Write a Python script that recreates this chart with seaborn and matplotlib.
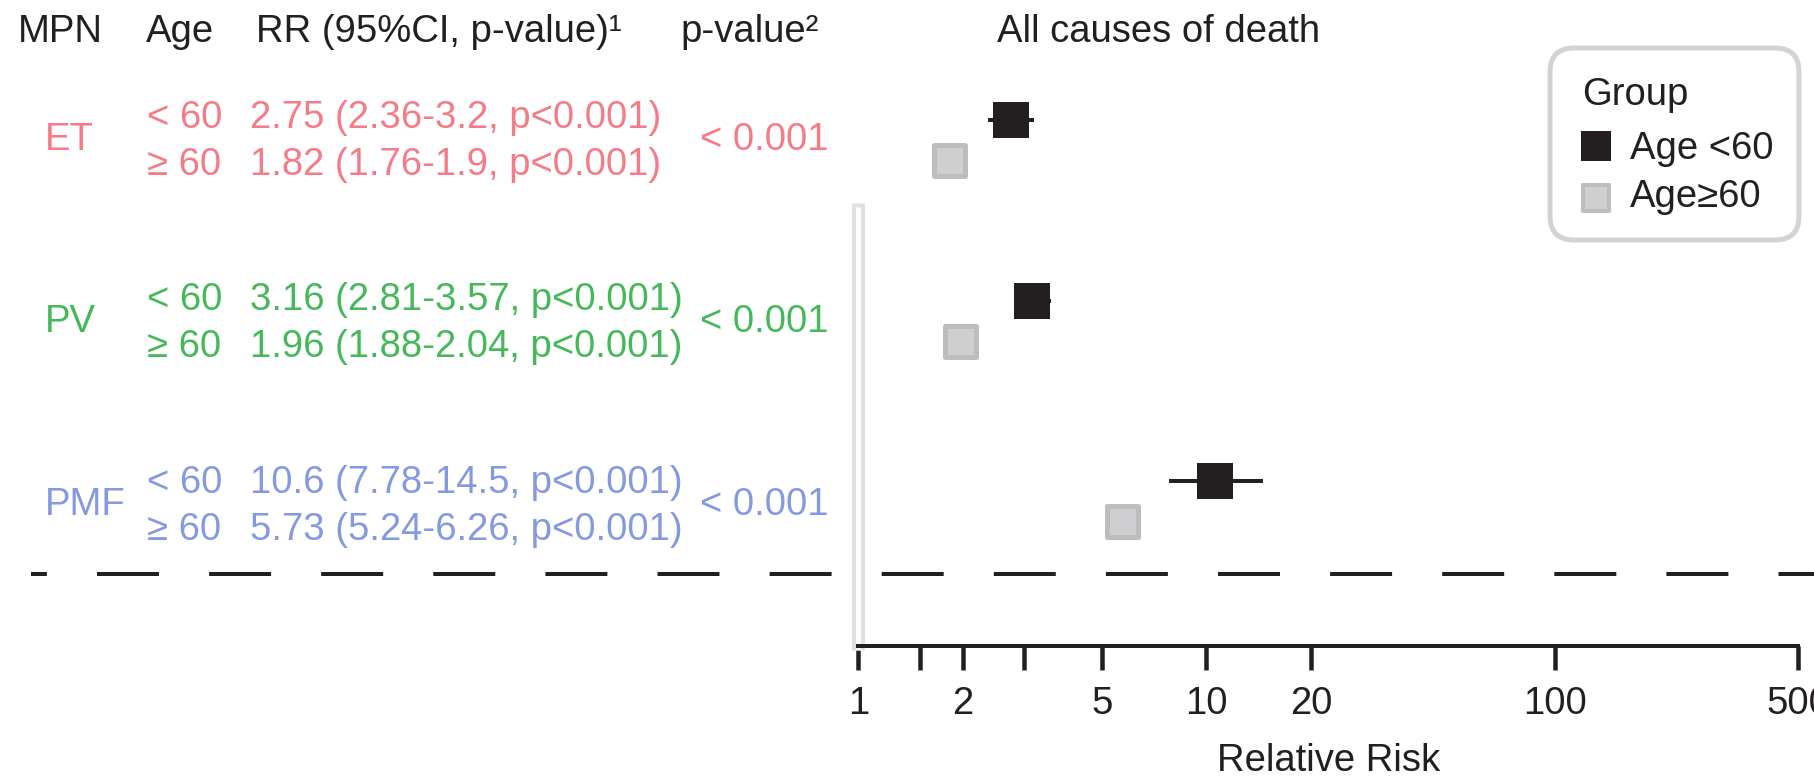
import numpy as np
import pandas as pd
import matplotlib
matplotlib.use("Agg")
import matplotlib.pyplot as plt
from matplotlib.patches import FancyBboxPatch
from matplotlib.ticker import NullLocator, FixedLocator, FixedFormatter
import seaborn as sns

# ---------------- data ----------------
mpn = ["ET", "PV", "PMF"]
age_labels = ["< 60", "\u2265 60"]
rr_under60 = [2.75, 3.16, 10.6]
lo_under60 = [2.36, 2.81, 7.78]
hi_under60 = [3.2, 3.57, 14.5]
p_under60 = ["p<0.001", "p<0.001", "p<0.001"]
rr_over60 = [1.82, 1.96, 5.73]
lo_over60 = [1.76, 1.88, 5.24]
hi_over60 = [1.9, 2.04, 6.26]
p_over60 = ["p<0.001", "p<0.001", "p<0.001"]
p_interaction = ["< 0.001", "< 0.001", "< 0.001"]
group_names = ["Age <60", "Age\u226560"]
x_ticks = [1, 1.5, 2, 3, 5, 10, 20, 100, 500]
x_ticklabels = ["1", "", "2", "", "5", "10", "20", "100", "500"]
headers = ["MPN", "Age", "RR (95%CI, p-value)\u00b9", "p-value\u00b2", "All causes of death"]

# ---------------- style ----------------
sns.set_theme(style="white")
plt.rcParams["font.family"] = ["Liberation Sans", "DejaVu Sans"]
plt.rcParams["lines.scale_dashes"] = False

INK = "#231F20"
MPN_COLORS = ["#F47B87", "#45B95A", "#8499E0"]
GREY_FILL = "#CFCFD1"
GREY_EDGE = "#BDBDBD"
FS = 27.5
PX = 72 / 100.0  # points per pixel at 100 dpi

W, H = 1814, 780
AX_LEFT, AX_RIGHT, AX_BOTTOM = 858.3, 1798.0, 646.0

group_centre = [139.5, 321.0, 501.0]   # marker rows (pixels from top)
label_base = [150.0, 332.0, 515.0]     # text baselines of the MPN labels

fig = plt.figure(figsize=(W / 100, H / 100), dpi=100)

# full-figure layer for the table text, dashed separator and legend
bg = fig.add_axes([0, 0, 1, 1])
bg.set_xlim(0, W)
bg.set_ylim(H, 0)
bg.axis("off")

# ---------------- forest panel ----------------
ax = fig.add_axes([AX_LEFT / W, (H - AX_BOTTOM) / H,
                   (AX_RIGHT - AX_LEFT) / W, AX_BOTTOM / H])
ax.patch.set_alpha(0)

rows = []
for i, m in enumerate(mpn):
    rows.append(dict(mpn=m, group=group_names[0], rr=rr_under60[i],
                     lo=lo_under60[i], hi=hi_under60[i], y=group_centre[i] - 20))
    rows.append(dict(mpn=m, group=group_names[1], rr=rr_over60[i],
                     lo=lo_over60[i], hi=hi_over60[i], y=group_centre[i] + 20))
df = pd.DataFrame(rows)

ax.set_xscale("log")

# reference line at RR = 1
ax.vlines(1, 203, 650, color="#E0E0E0", lw=13 * PX, zorder=1, clip_on=False)
ax.vlines(1, 207, 650, color="white", lw=5 * PX, zorder=1.1, clip_on=False)

# confidence intervals
for g, col in zip(group_names, [INK, GREY_EDGE]):
    sub = df[df.group == g]
    ax.hlines(sub.y, sub.lo, sub.hi, color=col, lw=4 * PX, zorder=3)

under = df[df.group == group_names[0]]
over = df[df.group == group_names[1]]
sns.scatterplot(data=over, x="rr", y="y", marker="s", s=(31 * PX) ** 2,
                color=GREY_FILL, edgecolor=GREY_EDGE, linewidth=5 * PX,
                ax=ax, legend=False, zorder=4)
sns.scatterplot(data=under, x="rr", y="y", marker="s", s=(36 * PX) ** 2,
                color=INK, edgecolor=INK, linewidth=0,
                ax=ax, legend=False, zorder=4)

ax.set_xlim(1, 500)
ax.set_ylim(AX_BOTTOM, 0)
ax.set_yticks([])
ax.set_ylabel("")
ax.xaxis.set_major_locator(FixedLocator(x_ticks))
ax.xaxis.set_major_formatter(FixedFormatter(x_ticklabels))
ax.xaxis.set_minor_locator(NullLocator())
ax.tick_params(axis="x", which="major", direction="out", length=24 * PX,
               width=4.5 * PX, color=INK, pad=11.5, labelsize=FS,
               labelcolor=INK, bottom=True)
for s in ["top", "right", "left"]:
    ax.spines[s].set_visible(False)
ax.spines["bottom"].set_linewidth(4 * PX)
ax.spines["bottom"].set_color(INK)
ax.spines["bottom"].set_capstyle("projecting")
ax.set_xlabel("Relative Risk", fontsize=FS, color=INK)
ax.xaxis.set_label_coords(0.5, (AX_BOTTOM - 743) / AX_BOTTOM)
ax.xaxis.label.set_va("top")

# ---------------- table text ----------------
header_x = [18, 146, 256, 680, 997]
for hx, t in zip(header_x, headers):
    bg.text(hx, 42, t, fontsize=FS, color=INK, va="baseline", ha="left")

for i, m in enumerate(mpn):
    c = MPN_COLORS[i]
    yb = label_base[i]
    bg.text(45, yb, m, fontsize=FS, color=c, va="baseline", ha="left")
    bg.text(700, yb, p_interaction[i], fontsize=FS, color=c, va="baseline", ha="left")
    for yy, age, rr, lo, hi, p in [
        (yb - 22, age_labels[0], rr_under60[i], lo_under60[i], hi_under60[i], p_under60[i]),
        (yb + 25, age_labels[1], rr_over60[i], lo_over60[i], hi_over60[i], p_over60[i]),
    ]:
        bg.text(147, yy, age, fontsize=FS, color=c, va="baseline", ha="left")
        bg.text(250, yy, f"{rr:g} ({lo:g}-{hi:g}, {p})", fontsize=FS, color=c,
                va="baseline", ha="left")

# dashed separator under the table
bg.plot([31, W], [574, 574], color=INK, lw=4 * PX,
        linestyle=(33.2, (62 * PX, 50.1 * PX)), solid_capstyle="butt")

# ---------------- legend ----------------
bg.add_patch(FancyBboxPatch((1550, 48), 249, 192,
                            boxstyle="round,pad=0,rounding_size=24",
                            fc="white", ec="#D3D3D3", lw=5 * PX, zorder=5))
bg.text(1582, 105, "Group", fontsize=FS, color=INK, va="baseline", zorder=6)
bg.scatter([1595.5], [146], marker="s", s=(30 * PX) ** 2, c=INK, lw=0, zorder=6)
bg.scatter([1595.5], [198], marker="s", s=(26 * PX) ** 2, c=GREY_FILL,
           edgecolors=GREY_EDGE, lw=4 * PX, zorder=6)
bg.text(1630, 159, group_names[0], fontsize=FS, color=INK, va="baseline", zorder=6)
bg.text(1630, 207, group_names[1], fontsize=FS, color=INK, va="baseline", zorder=6)

fig.savefig("out.png", dpi=100)
